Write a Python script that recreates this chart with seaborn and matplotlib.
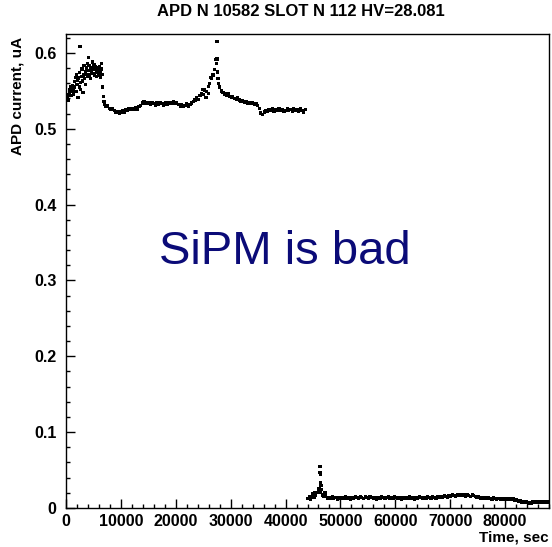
import numpy as np
import pandas as pd
import matplotlib
matplotlib.use("Agg")
import matplotlib.pyplot as plt
from matplotlib.ticker import MultipleLocator, FuncFormatter
import seaborn as sns

# ---- data -------------------------------------------------------------
title = "APD N 10582 SLOT N 112 HV=28.081"
x_label = "Time, sec"
y_label = "APD current, uA"
annotation = "SiPM is bad"

# warm-up period, sampled every 100 s starting at 300 s
warmup_t0, warmup_dt = 300, 100
warmup_current = [
    0.541, 0.545, 0.538, 0.552, 0.548, 0.556, 0.544, 0.553,
    0.549, 0.557, 0.551, 0.546, 0.562, 0.555, 0.568, 0.549, 0.572, 0.558,
    0.564, 0.541, 0.567, 0.555, 0.574, 0.561, 0.552, 0.569, 0.579, 0.563,
    0.548, 0.571, 0.583, 0.566, 0.575, 0.558, 0.580, 0.572, 0.586, 0.569,
    0.577, 0.583, 0.571, 0.579, 0.566, 0.581, 0.575, 0.588, 0.573, 0.579,
    0.584, 0.570, 0.578, 0.582, 0.575, 0.569, 0.580, 0.574, 0.578, 0.571,
    0.582, 0.576, 0.568, 0.579, 0.586, 0.572, 0.555, 0.543, 0.536,
]

# high-current plateau, sampled every 300 s starting at 7000 s
high_t0, high_dt = 7000, 300
high_current = [
    0.532, 0.529, 0.530, 0.527, 0.526, 0.527, 0.524, 0.522, 0.523, 0.520,
    0.522, 0.524, 0.522, 0.525, 0.524, 0.526, 0.525, 0.527, 0.525, 0.528,
    0.526, 0.529, 0.531, 0.534, 0.536, 0.534, 0.533, 0.535, 0.532, 0.534,
    0.533, 0.531, 0.534, 0.532, 0.535, 0.533, 0.531, 0.534, 0.532, 0.535,
    0.533, 0.534, 0.536, 0.533, 0.535, 0.532, 0.530, 0.532, 0.529, 0.531,
    0.533, 0.530, 0.532, 0.534, 0.536, 0.538, 0.541, 0.539, 0.544, 0.547,
    0.545, 0.551, 0.549, 0.556, 0.560, 0.566, 0.571, 0.578, 0.586, 0.566,
    0.555, 0.550, 0.548, 0.546, 0.544, 0.546, 0.543, 0.541, 0.543, 0.540,
    0.539, 0.541, 0.538, 0.536, 0.537, 0.535, 0.536, 0.534, 0.535, 0.533,
    0.534, 0.532, 0.533, 0.531, 0.527, 0.521, 0.519, 0.522, 0.524, 0.523,
    0.525, 0.524, 0.526, 0.523, 0.525, 0.524, 0.526, 0.524, 0.525, 0.523,
    0.524, 0.526, 0.524, 0.525, 0.523, 0.526, 0.524, 0.525, 0.523, 0.526,
    0.524, 0.522, 0.525,
]

# low-current period after the failure, sampled every 300 s from 44000 s
low_t0, low_dt = 44000, 300
low_current = [
    0.013, 0.015, 0.012, 0.016, 0.014, 0.017, 0.020, 0.025, 0.021, 0.017,
    0.015, 0.016, 0.013, 0.014, 0.013, 0.015, 0.013, 0.014, 0.012, 0.014,
    0.013, 0.014, 0.013, 0.015, 0.013, 0.014, 0.012, 0.014, 0.013, 0.015,
    0.014, 0.013, 0.015, 0.014, 0.013, 0.015, 0.014, 0.013, 0.015, 0.014,
    0.013, 0.014, 0.012, 0.014, 0.013, 0.015, 0.014, 0.013, 0.014, 0.015,
    0.013, 0.014, 0.013, 0.015, 0.014, 0.013, 0.014, 0.012, 0.014, 0.013,
    0.014, 0.013, 0.015, 0.013, 0.014, 0.012, 0.014, 0.013, 0.015, 0.014,
    0.013, 0.014, 0.013, 0.015, 0.014, 0.013, 0.015, 0.014, 0.013, 0.015,
    0.014, 0.015, 0.014, 0.016, 0.015, 0.014, 0.016, 0.015, 0.017, 0.016,
    0.015, 0.017, 0.016, 0.018, 0.016, 0.017, 0.015, 0.017, 0.016, 0.015,
    0.017, 0.016, 0.015, 0.014, 0.015, 0.013, 0.014, 0.013, 0.014, 0.013,
    0.014, 0.013, 0.012, 0.014, 0.013, 0.012, 0.013, 0.012, 0.013, 0.012,
    0.013, 0.012, 0.011, 0.012, 0.011, 0.012, 0.010, 0.011, 0.009, 0.010,
    0.008, 0.009, 0.007, 0.008, 0.006, 0.007, 0.006, 0.008, 0.007, 0.008,
    0.007, 0.009, 0.008, 0.009, 0.008, 0.009, 0.008,
]

# isolated readings (spikes and outliers)
spike_time = [2550, 4060, 25500, 26000, 24900, 26300, 27300, 27500, 27500,
              27650, 27750, 44900, 45300, 46200, 46300, 46300, 46350, 46400,
              46450, 46500, 47200]
spike_current = [0.609, 0.594, 0.541, 0.547, 0.552, 0.568, 0.591, 0.592, 0.615,
                 0.575, 0.560, 0.019, 0.020, 0.022, 0.055, 0.047, 0.034, 0.044,
                 0.030, 0.024, 0.020]

x_ticks = [0, 10000, 20000, 30000, 40000, 50000, 60000, 70000, 80000]
y_ticks = [0, 0.1, 0.2, 0.3, 0.4, 0.5, 0.6]

# ---- assemble ---------------------------------------------------------
def sampled(t0, dt, values):
    return t0 + dt * np.arange(len(values))

df = pd.DataFrame({
    "time": np.concatenate([
        sampled(warmup_t0, warmup_dt, warmup_current),
        sampled(high_t0, high_dt, high_current),
        sampled(low_t0, low_dt, low_current),
        spike_time,
    ]),
    "current": np.concatenate([warmup_current, high_current, low_current,
                               spike_current]),
})

# ---- figure -----------------------------------------------------------
sns.set_style("ticks")
plt.rcParams["font.family"] = ["Liberation Sans", "DejaVu Sans"]
plt.rcParams["font.weight"] = "bold"
plt.rcParams["text.color"] = "black"
plt.rcParams["xtick.color"] = "black"
plt.rcParams["ytick.color"] = "black"
plt.rcParams["xtick.labelcolor"] = "black"
plt.rcParams["ytick.labelcolor"] = "black"

W, H = 552, 547
fig = plt.figure(figsize=(W / 100, H / 100), dpi=100)
ax = fig.add_axes([66 / W, 1 - 508 / H, (549 - 66) / W, (508 - 34) / H])

sns.scatterplot(data=df, x="time", y="current", ax=ax, marker="s", s=5.5,
                color="black", linewidth=0, edgecolor="none", legend=False)

ax.set_xlim(0, 88000)
ax.set_ylim(0, 0.625)
ax.set_xticks(x_ticks)
ax.set_yticks(y_ticks)
ax.xaxis.set_minor_locator(MultipleLocator(2000))
ax.yaxis.set_minor_locator(MultipleLocator(0.02))
ax.xaxis.set_major_formatter(FuncFormatter(lambda v, p: f"{v:.0f}"))
ax.yaxis.set_major_formatter(
    FuncFormatter(lambda v, p: "0" if abs(v) < 1e-9 else f"{v:.1f}"))

ax.tick_params(axis="both", which="both", direction="in", color="black",
               labelcolor="black", top=False, right=False, width=1)
ax.tick_params(axis="both", which="major", length=6.5, labelsize=11.5)
ax.tick_params(axis="both", which="minor", length=3.2)
ax.tick_params(axis="x", which="major", pad=4)
ax.tick_params(axis="y", which="major", pad=7)
for lab in ax.get_xticklabels() + ax.get_yticklabels():
    lab.set_fontweight("bold")

for side in ["left", "right", "top", "bottom"]:
    ax.spines[side].set_visible(True)
    ax.spines[side].set_color("black")
    ax.spines[side].set_linewidth(1.0)

ax.set_xlabel("")
ax.set_ylabel("")
fig.text(549 / W, 1 - 537 / H, x_label, ha="right", va="center",
         fontsize=11, fontweight="bold", color="black")
fig.text(18 / W, 1 - 37 / H, y_label, ha="center", va="top", rotation=90,
         fontsize=11, fontweight="bold", color="black")
fig.text(301 / W, 1 - 12 / H, title, ha="center", va="center",
         fontsize=12, fontweight="bold", color="black")

ax.text(17000, 0.322, annotation, color="#0b0b78", fontsize=34,
        fontweight="normal", ha="left", va="baseline")

fig.savefig("out.png", dpi=100)
